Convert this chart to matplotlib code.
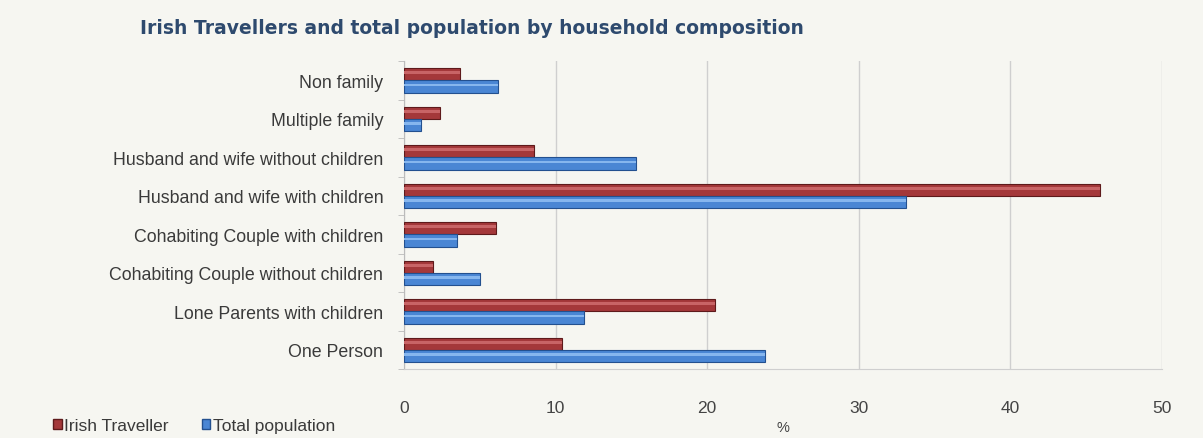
import numpy as np
import matplotlib.pyplot as plt
from matplotlib.patches import Patch

categories = [
    "Non family",
    "Multiple family",
    "Husband and wife without children",
    "Husband and wife with children",
    "Cohabiting Couple with children",
    "Cohabiting Couple without children",
    "Lone Parents with children",
    "One Person",
]
irish_traveller = [3.7, 2.4, 8.6, 45.9, 6.1, 1.9, 20.5, 10.4]
total_population = [6.2, 1.1, 15.3, 33.1, 3.5, 5.0, 11.9, 23.8]
x_ticks = [0, 10, 20, 30, 40, 50]

plt.rcParams['font.family'] = ['Liberation Sans', 'DejaVu Sans']

bg = "#f6f6f1"
red, red_hi, red_edge = "#a4383a", "#c86466", "#5e1a1b"
blue, blue_hi, blue_edge = "#4a86d4", "#86b6ee", "#23508f"

fig = plt.figure(figsize=(12.03, 4.39), dpi=100, facecolor=bg)
ax = fig.add_axes([0.3358, 0.157, 0.6301, 0.7016], facecolor=bg)

y = np.arange(len(categories))
h = 0.32

# main bars, then a thinner light stripe for the rounded look
ax.barh(y - h / 2, irish_traveller, height=h, color=red, edgecolor=red_edge, linewidth=0.8, zorder=3)
ax.barh(y + h / 2, total_population, height=h, color=blue, edgecolor=blue_edge, linewidth=0.8, zorder=3)
ax.barh(y - h / 2 - h * 0.12, irish_traveller, height=h * 0.22, color=red_hi, linewidth=0, zorder=4)
ax.barh(y + h / 2 - h * 0.12, total_population, height=h * 0.22, color=blue_hi, linewidth=0, zorder=4)

ax.set_yticks(y)
ax.set_yticklabels(categories, fontsize=12.8, color="#3a3a3a")
ax.set_ylim(len(categories) - 0.5, -0.5)

ax.set_xlim(0, 50)
ax.set_xticks(x_ticks)
ax.set_xticklabels([str(t) for t in x_ticks], fontsize=12.5, color="#444444")
ax.tick_params(axis="x", length=0, pad=22)
ax.set_yticks(np.arange(len(categories) + 1) - 0.5, minor=True)
ax.tick_params(axis="y", which="minor", length=4, color="#bbbbbb")
ax.tick_params(axis="y", which="major", length=0, pad=15)

ax.grid(axis="x", color="#cfcfcf", linewidth=1, zorder=0)
for s in ["top", "right"]:
    ax.spines[s].set_visible(False)
ax.spines["left"].set_color("#bbbbbb")
ax.spines["bottom"].set_color("#cfcfcf")

ax.set_xlabel("%", fontsize=10.5, color="#444444", labelpad=4)

fig.text(0.116, 0.935, "Irish Travellers and total population by household composition",
         fontsize=13.5, fontweight="bold", color="#2e4a6e", va="center",
         family=["DejaVu Sans"])

handles = [Patch(facecolor=red, edgecolor=red_edge), Patch(facecolor=blue, edgecolor=blue_edge)]
fig.legend(handles, ["Irish Traveller", "Total population"], loc="lower left",
           bbox_to_anchor=(0.031, -0.025), ncol=2, frameon=False, fontsize=12.5,
           handlelength=0.5, handleheight=0.5, handletextpad=0.15, columnspacing=1.9,
           labelcolor="#3a3a3a")

fig.savefig("out.png", dpi=100, facecolor=bg)
